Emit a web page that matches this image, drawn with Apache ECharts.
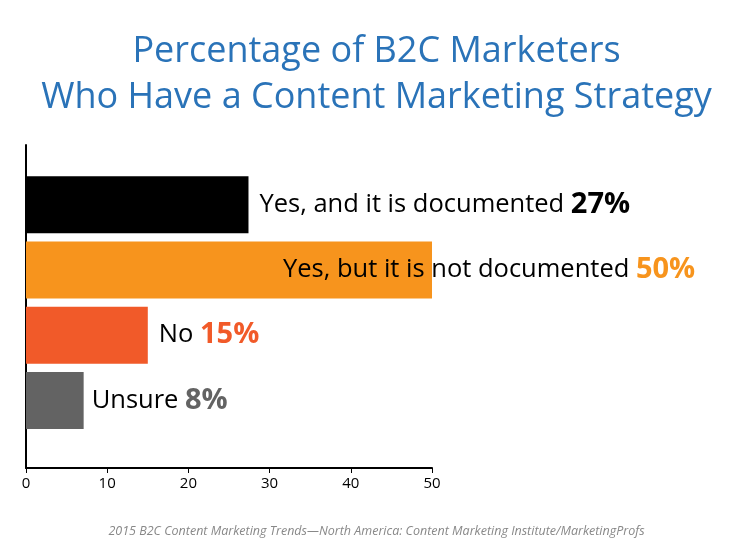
<!DOCTYPE html>
<html><head><meta charset="utf-8">
<script src="https://cdn.jsdelivr.net/npm/echarts@6/dist/echarts.min.js"></script>
<style>html,body{margin:0;background:#fff}#c{width:753px;height:546px}</style>
</head><body><div id="c"></div>
<script>
const categories = ['Yes, and it is documented', 'Yes, but it is not documented', 'No', 'Unsure'];
const values = [27.4, 50, 15, 7.1];
const pctLabels = ['27%', '50%', '15%', '8%'];
const colors = ['#000000', '#f7941d', '#f15a29', '#636363'];
const xTicks = [0, 10, 20, 30, 40, 50];

const chart = echarts.init(document.getElementById('c'));
const data = values.map((v, i) => ({
  value: v,
  itemStyle: { color: colors[i] },
  label: {
    show: true, position: 'right', distance: i === 3 ? 8 : 11,
    offset: i === 1 ? [-160, 0] : [0, 0],
    formatter: categories[i] + ' {p' + i + '|' + pctLabels[i] + '}',
    color: '#000', fontSize: 25.5, fontFamily: 'Open Sans',
    rich: { ['p' + i]: { color: colors[i], fontWeight: 'bold', fontSize: 29, fontFamily: 'Open Sans' } }
  }
}));
chart.setOption({
  animation: false,
  title: [
    { text: 'Percentage of B2C Marketers\nWho Have a Content Marketing Strategy', left: 'center', top: 24,
      textStyle: { color: '#2a73b8', fontSize: 36, fontWeight: 'normal', fontFamily: 'Open Sans', lineHeight: 46 } },
    { text: '2015 B2C Content Marketing Trends—North America: Content Marketing Institute/MarketingProfs', left: 'center', top: 520,
      textStyle: { color: '#888', fontSize: 12.5, fontStyle: 'italic', fontWeight: 'normal', fontFamily: 'Open Sans' } }
  ],
  grid: [
    { left: 26, right: 321, top: 172, bottom: 113 },
    { left: 26, right: 321, top: 145, bottom: 78 }
  ],
  xAxis: [
    { gridIndex: 0, type: 'value', min: 0, max: 50, show: false },
    { gridIndex: 1, type: 'value', min: 0, max: 50, interval: 10,
      axisLine: { show: true, lineStyle: { color: '#000', width: 2 } },
      axisTick: { show: true, length: 5, lineStyle: { color: '#000' } },
      splitLine: { show: false },
      axisLabel: { color: '#000', fontSize: 15, fontFamily: 'Open Sans', margin: 8 } }
  ],
  yAxis: [
    { gridIndex: 0, type: 'category', data: categories, inverse: true, show: false },
    { gridIndex: 1, type: 'value', min: 0, max: 1, axisLine: { show: true, lineStyle: { color: '#000', width: 2 } },
      axisTick: { show: false }, axisLabel: { show: false }, splitLine: { show: false } }
  ],
  series: [{ type: 'bar', xAxisIndex: 0, yAxisIndex: 0, data: data, barWidth: 57 }]
});
</script></body></html>
